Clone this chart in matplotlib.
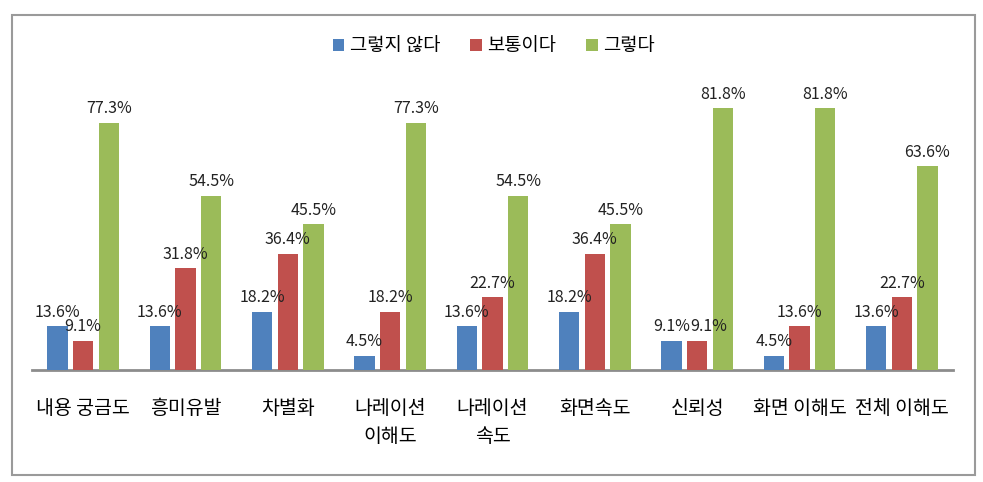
import numpy as np
import matplotlib
matplotlib.use('Agg')
import matplotlib.pyplot as plt
from matplotlib.patches import Rectangle

plt.rcParams['font.family'] = ['Noto Sans CJK KR', 'DejaVu Sans']

# 데이터
categories = ['내용 궁금도', '흥미유발', '차별화', '나레이션\n이해도', '나레이션\n속도',
              '화면속도', '신뢰성', '화면 이해도', '전체 이해도']
series_names = ['그렇지 않다', '보통이다', '그렇다']
not_agree = [13.6, 13.6, 18.2, 4.5, 13.6, 18.2, 9.1, 4.5, 13.6]
neutral = [9.1, 31.8, 36.4, 18.2, 22.7, 36.4, 9.1, 13.6, 22.7]
agree = [77.3, 54.5, 45.5, 77.3, 54.5, 45.5, 81.8, 81.8, 63.6]

colors = ['#4F81BD', '#C0504D', '#9BBB59']

fig = plt.figure(figsize=(9.83, 4.82), dpi=100)

# 바깥 테두리
border = Rectangle((12 / 983, 1 - 475 / 482), 963 / 983, 460 / 482,
                   transform=fig.transFigure, fill=False,
                   edgecolor='#9a9a9a', linewidth=1.5)
fig.patches.append(border)

ax = fig.add_axes([32 / 983, 112 / 482, 921 / 983, 288 / 482])

x = np.arange(len(categories))
width = 0.2
offset = 0.25

for i, (vals, name) in enumerate(zip([not_agree, neutral, agree], series_names)):
    pos = x + (i - 1) * offset
    bars = ax.bar(pos, vals, width, color=colors[i], label=name, zorder=3)
    for j, (b, v) in enumerate(zip(bars, vals)):
        dx = 0
        # 같은 높이의 라벨이 겹치면 오른쪽으로 조금 밀기 (엑셀처럼)
        if i == 1 and not_agree[j] == v:
            dx = 8
        ax.annotate(f'{v}%', (b.get_x() + b.get_width() / 2, v),
                    xytext=(dx, 4), textcoords='offset points',
                    ha='center', va='bottom', fontsize=11.5, color='#222222',
                    zorder=6)

ax.set_xlim(-0.5, len(categories) - 0.5)
ax.set_ylim(0, 90)
ax.set_yticks([])
ax.set_xticks(x)
ax.set_xticklabels(categories, fontsize=14, linespacing=1.45)
ax.tick_params(axis='x', length=0, pad=20)

for side in ['top', 'right', 'left']:
    ax.spines[side].set_visible(False)
ax.spines['bottom'].set_color('#8c8c8c')
ax.spines['bottom'].set_linewidth(2)

fig.legend(loc='center', bbox_to_anchor=(494 / 983, 1 - 46 / 482), ncol=3,
           frameon=False, fontsize=13.5, handlelength=0.6, handleheight=0.6,
           handletextpad=0.3, columnspacing=1.6)

fig.savefig('out.png', dpi=100)
